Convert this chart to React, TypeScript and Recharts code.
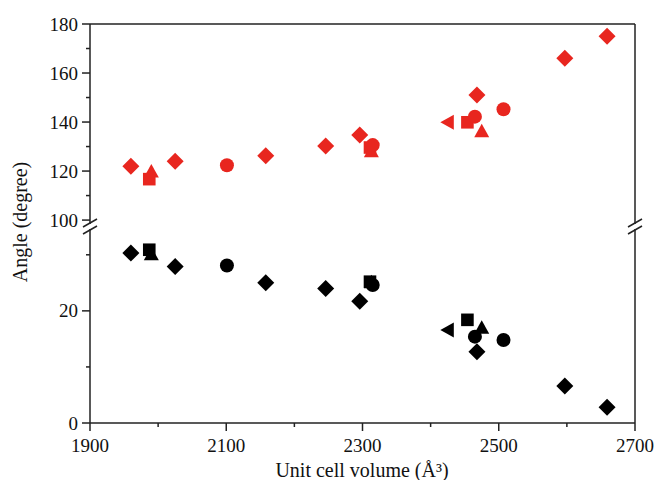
import { ScatterChart, Scatter, XAxis, YAxis, ReferenceLine } from 'recharts'

// unit cell volume (Å³) per marker family
const diamondVol = [1960, 2025, 2158, 2246, 2296, 2468, 2597, 2659]
const squareVol = [1987, 2311, 2454]
const triangleVol = [1990, 2313, 2475]
const circleVol = [2101, 2315, 2465, 2507]
const leftTriVol = [2426]

// upper (red) angles
const diamondUpper = [122, 124, 126.2, 130.2, 134.7, 151, 166, 175]
const squareUpper = [116.7, 129.6, 139.9]
const triangleUpper = [119.6, 127.9, 136]
const circleUpper = [122.4, 130.6, 142.2, 145.2]
const leftTriUpper = [139.9]

// lower (black) angles
const diamondLower = [30.3, 27.9, 25, 24, 21.7, 12.7, 6.6, 2.8]
const squareLower = [30.9, 25.2, 18.4]
const triangleLower = [30, 25, 16.9]
const circleLower = [28.1, 24.6, 15.4, 14.8]
const leftTriLower = [16.6]

const xTicks = [1900, 2000, 2100, 2200, 2300, 2400, 2500, 2600, 2700]
const xMajor = [1900, 2100, 2300, 2500, 2700]
const upperTicks = [100, 110, 120, 130, 140, 150, 160, 170, 180]
const upperMajor = [100, 120, 140, 160, 180]
const lowerTicks = [0, 10, 20, 30]
const lowerMajor = [0, 20]

const RED = '#e8261f'
const BLACK = '#000'
const AXIS = '#222'
const FONT = '"Liberation Serif", "Times New Roman", serif'
const TS = 8 // tick size handed to recharts, used to find the axis line

const toPts = (xs: number[], ys: number[]) => xs.map((x, i) => ({ x, y: ys[i] }))

const diamond = (color: string) => (p: any) => (
  <path d={`M${p.cx},${p.cy - 8.5}L${p.cx + 8.5},${p.cy}L${p.cx},${p.cy + 8.5}L${p.cx - 8.5},${p.cy}Z`} fill={color} />
)
const square = (color: string) => (p: any) => (
  <rect x={p.cx - 6.3} y={p.cy - 6.3} width={12.6} height={12.6} fill={color} />
)
const triangle = (color: string) => (p: any) => (
  <path d={`M${p.cx},${p.cy - 8}L${p.cx + 7.5},${p.cy + 5.5}L${p.cx - 7.5},${p.cy + 5.5}Z`} fill={color} />
)
const leftTri = (color: string) => (p: any) => (
  <path d={`M${p.cx - 8},${p.cy}L${p.cx + 5.5},${p.cy - 7.5}L${p.cx + 5.5},${p.cy + 7.5}Z`} fill={color} />
)
const circle = (color: string) => (p: any) => <circle cx={p.cx} cy={p.cy} r={7} fill={color} />

const YTick = (major: number[]) => (p: any) => {
  const v = p.payload.value
  const isMajor = major.includes(v)
  const ax = p.x + TS
  return (
    <g>
      <line x1={ax - (isMajor ? 8 : 4)} x2={ax} y1={p.y} y2={p.y} stroke={AXIS} strokeWidth={1.5} />
      {isMajor && (
        <text x={ax - 12} y={p.y + 6.5} textAnchor="end" fontSize={19} fontFamily={FONT} fill="#111">
          {v}
        </text>
      )}
    </g>
  )
}

const XTick = (p: any) => {
  const v = p.payload.value
  const isMajor = xMajor.includes(v)
  const ay = p.y - TS
  return (
    <g>
      <line x1={p.x} x2={p.x} y1={ay} y2={ay + (isMajor ? 8 : 4)} stroke={AXIS} strokeWidth={1.5} />
      {isMajor && (
        <text x={p.x} y={ay + 29} textAnchor="middle" fontSize={19} fontFamily={FONT} fill="#111">
          {v}
        </text>
      )}
    </g>
  )
}

export default function App() {
  const pos = { position: 'absolute' as const, left: 0, top: 0 }
  const breaks = [90, 635]
  return (
    <div style={{ position: 'absolute', left: 0, top: 0, width: 657, height: 480, background: '#fff' }}>
      <div style={pos}>
        <ScatterChart width={657} height={240} margin={{ top: 4, right: 22, bottom: 16, left: 0 }}>
          <XAxis
            type="number"
            dataKey="x"
            orientation="top"
            domain={[1900, 2700]}
            height={20}
            tick={false}
            tickLine={false}
            axisLine={{ stroke: AXIS, strokeWidth: 1.5 }}
          />
          <YAxis
            type="number"
            dataKey="y"
            domain={[98.4, 180]}
            allowDataOverflow
            ticks={upperTicks}
            interval={0}
            width={90}
            tickSize={TS}
            tickMargin={0}
            tickLine={false}
            tick={YTick(upperMajor)}
            axisLine={{ stroke: AXIS, strokeWidth: 1.5 }}
          />
          <ReferenceLine x={2700} stroke={AXIS} strokeWidth={1.5} />
          <Scatter data={toPts(squareVol, squareUpper)} shape={square(RED)} isAnimationActive={false} />
          <Scatter data={toPts(triangleVol, triangleUpper)} shape={triangle(RED)} isAnimationActive={false} />
          <Scatter data={toPts(circleVol, circleUpper)} shape={circle(RED)} isAnimationActive={false} />
          <Scatter data={toPts(diamondVol, diamondUpper)} shape={diamond(RED)} isAnimationActive={false} />
          <Scatter data={toPts(leftTriVol, leftTriUpper)} shape={leftTri(RED)} isAnimationActive={false} />
        </ScatterChart>
      </div>
      <div style={pos}>
        <ScatterChart width={657} height={480} margin={{ top: 229, right: 22, bottom: 0, left: 0 }}>
          <XAxis
            type="number"
            dataKey="x"
            domain={[1900, 2700]}
            ticks={xTicks}
            interval={0}
            height={57}
            tickSize={TS}
            tickMargin={0}
            tickLine={false}
            tick={XTick}
            axisLine={{ stroke: AXIS, strokeWidth: 1.5 }}
          />
          <YAxis
            type="number"
            dataKey="y"
            domain={[0, 34.6]}
            allowDataOverflow
            ticks={lowerTicks}
            interval={0}
            width={90}
            tickSize={TS}
            tickMargin={0}
            tickLine={false}
            tick={YTick(lowerMajor)}
            axisLine={{ stroke: AXIS, strokeWidth: 1.5 }}
          />
          <ReferenceLine x={2700} stroke={AXIS} strokeWidth={1.5} />
          <Scatter data={toPts(squareVol, squareLower)} shape={square(BLACK)} isAnimationActive={false} />
          <Scatter data={toPts(triangleVol, triangleLower)} shape={triangle(BLACK)} isAnimationActive={false} />
          <Scatter data={toPts(circleVol, circleLower)} shape={circle(BLACK)} isAnimationActive={false} />
          <Scatter data={toPts(diamondVol, diamondLower)} shape={diamond(BLACK)} isAnimationActive={false} />
          <Scatter data={toPts(leftTriVol, leftTriLower)} shape={leftTri(BLACK)} isAnimationActive={false} />
        </ScatterChart>
      </div>
      <svg style={{ ...pos, pointerEvents: 'none' }} width={657} height={480}>
        {breaks.map((bx) => (
          <g key={bx} stroke={AXIS} strokeWidth={1.5}>
            <line x1={bx - 7} y1={227} x2={bx + 7} y2={219} />
            <line x1={bx - 7} y1={234} x2={bx + 7} y2={226} />
          </g>
        ))}
        <text x={362} y={477} textAnchor="middle" fontSize={20} fontFamily={FONT} fill="#111">
          Unit cell volume (Å³)
        </text>
        <text
          x={0}
          y={0}
          transform="translate(27,222) rotate(-90)"
          textAnchor="middle"
          fontSize={20}
          fontFamily={FONT}
          fill="#111"
        >
          Angle (degree)
        </text>
      </svg>
    </div>
  )
}
